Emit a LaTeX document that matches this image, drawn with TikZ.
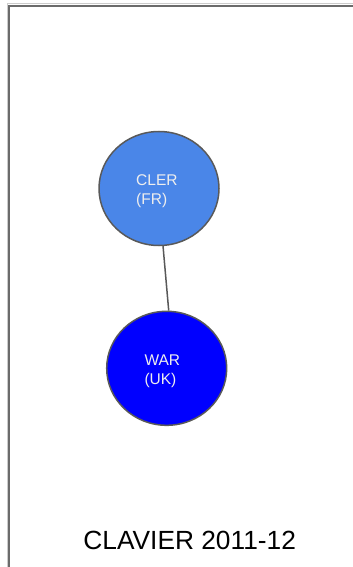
\documentclass[tikz,border=0pt]{standalone}
\usepackage{fontspec}
\setmainfont{Liberation Sans}
\usetikzlibrary{shapes.geometric}
\definecolor{edgegray}{HTML}{595959}
\definecolor{framegray}{HTML}{6B6B6B}
\definecolor{lightblue}{HTML}{4A86E8}
\definecolor{pureblue}{HTML}{0000FF}
\definecolor{txt}{HTML}{EEEEEE}
\tikzset{
  country/.style={ellipse, draw=edgegray, line width=1.5pt, minimum width=120pt, minimum height=114pt, inner sep=0pt},
  lbl/.style={text=txt, font=\fontsize{15.5}{19}\selectfont, align=left, anchor=base west, inner sep=0pt},
  link/.style={draw=edgegray, line width=1.5pt},
  frame/.style={draw=framegray, line width=2pt},
  title/.style={font=\fontsize{26.3}{30}\selectfont, text=black, anchor=base, inner sep=0pt}
}
\begin{document}
\begin{tikzpicture}[x=1pt,y=-1pt]
\useasboundingbox (0,0) rectangle (353,567);
\fill[white] (0,0) rectangle (353,567);
% frame
\draw[black!20, line width=1pt] (7,567) -- (7,4) -- (353,4);
\draw[frame] (9,567) -- (9,6) -- (353,6);
% nodes
\node[country, fill=lightblue] (cler) at (159,188.5) {};
\node[country, fill=pureblue] (war) at (166.7,368.3) {};
\node[lbl] (clert) at (136,204) {CLER\\(FR)};
\node[lbl] (wart) at (144.3,384) {WAR\\(UK)};
\draw[link] (cler.-86) -- (war.88);
\node[title] (ttl) at (189.7,549.3) {CLAVIER 2011-12};
\end{tikzpicture}
\end{document}
